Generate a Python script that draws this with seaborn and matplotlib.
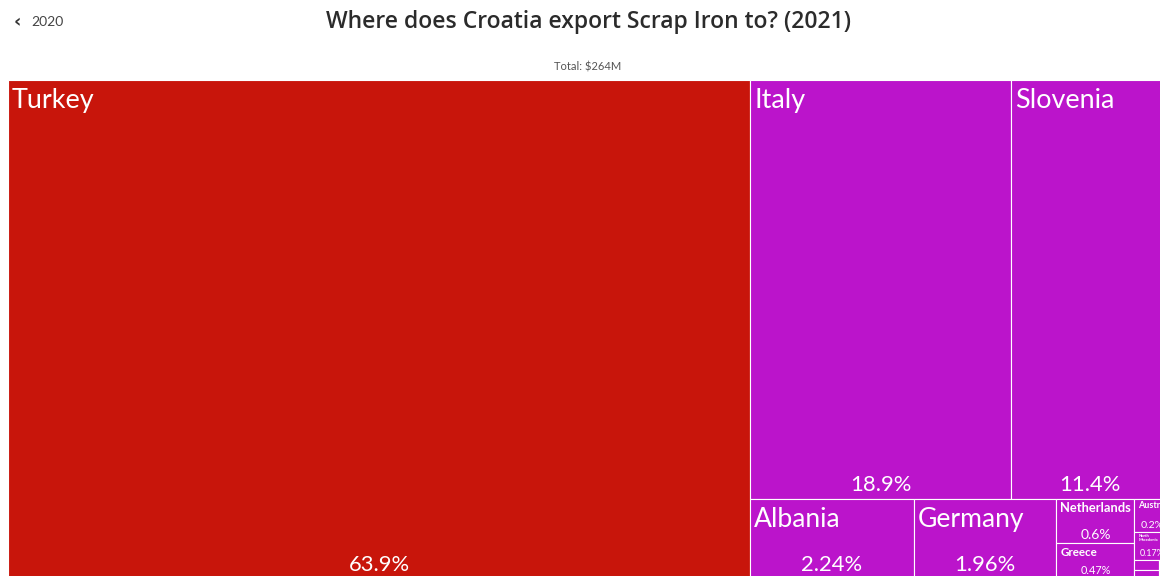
import numpy as np
import pandas as pd
import matplotlib.pyplot as plt
import seaborn as sns
from matplotlib.patches import Rectangle

# data
countries = ["Turkey", "Italy", "Slovenia", "Albania", "Germany", "Netherlands",
             "Greece", "Austria", "North Macedonia", "Bosnia and Herzegovina",
             "Serbia", "Montenegro"]
shares = [63.9, 18.9, 11.4, 2.24, 1.96, 0.6, 0.47, 0.2, 0.17, 0.04, 0.035, 0.03]
continents = ["Asia", "Europe", "Europe", "Europe", "Europe", "Europe",
              "Europe", "Europe", "Europe", "Europe", "Europe", "Europe"]
pct_labels = ["63.9%", "18.9%", "11.4%", "2.24%", "1.96%", "0.6%", "0.47%",
              "0.2%", "0.17%", "", "", ""]
continent_colors = {"Asia": "#C8150B", "Europe": "#BB14CB"}

df = pd.DataFrame({"country": countries, "share": shares,
                   "continent": continents, "pct": pct_labels})

# treemap area in pixels (d3 squarify layout, a bit cropped at right/bottom)
W, H = 1161.0, 498.0
PHI = (1 + 5 ** 0.5) / 2


def squarify(values, x0, y0, x1, y1, ratio=PHI):
    out = [None] * len(values)
    value = float(sum(values))
    n = len(values)
    i0 = i1 = 0
    while i0 < n:
        dx, dy = x1 - x0, y1 - y0
        sum_v = values[i1]
        i1 += 1
        min_v = max_v = sum_v
        alpha = max(dy / dx, dx / dy) / (value * ratio)
        beta = sum_v * sum_v * alpha
        min_ratio = max(max_v / beta, beta / min_v)
        while i1 < n:
            nv = values[i1]
            sum_v += nv
            min_v = min(min_v, nv)
            max_v = max(max_v, nv)
            beta = sum_v * sum_v * alpha
            new_ratio = max(max_v / beta, beta / min_v)
            if new_ratio > min_ratio:
                sum_v -= nv
                break
            min_ratio = new_ratio
            i1 += 1
        row = list(range(i0, i1))
        if dx < dy:
            # dice: horizontal row on top
            ny = y0 + dy * sum_v / value
            cx = x0
            for k in row:
                w = (x1 - x0) * values[k] / sum_v
                out[k] = (cx, y0, w, ny - y0)
                cx += w
            y0 = ny
        else:
            # slice: vertical column on the left
            nx = x0 + dx * sum_v / value
            cy = y0
            for k in row:
                h = (y1 - y0) * values[k] / sum_v
                out[k] = (x0, cy, nx - x0, h)
                cy += h
            x0 = nx
        value -= sum_v
        i0 = i1
    return out


boxes = squarify(df["share"].tolist(), 0, 0, W, H)

sns.set_theme(style="white")
plt.rcParams["font.family"] = ["Lato", "DejaVu Sans"]

fig = plt.figure(figsize=(11.6, 5.76), dpi=100)
ax = fig.add_axes([8 / 1160, -2 / 576, W / 1160, H / 576])
ax.set_xlim(0, W)
ax.set_ylim(H, 0)
ax.axis("off")

PX = 0.72  # points per pixel at dpi 100

for (x, y, w, h), row in zip(boxes, df.itertuples()):
    ax.add_patch(Rectangle((x, y), w, h, facecolor=continent_colors[row.continent],
                           edgecolor="white", linewidth=0.8))
    name = row.country
    name_px = min(27, w / (0.55 * len(name)), h / 3.0)
    if row.country == "North Macedonia":
        name = "North\nMacedonia"
        name_px = 4
    if name_px >= 3:
        weight = "normal" if name_px > 14 else "bold"
        ax.text(x + 4, y + max(2, name_px * 0.3), name, color="white",
                fontsize=name_px * PX, ha="left", va="top", fontweight=weight,
                linespacing=1.0, clip_on=True)
    if row.pct:
        pct_px = min(22, w / (0.5 * len(row.pct)), h / 3.2)
        if pct_px >= 3:
            ax.text(x + w / 2, y + h - max(2, pct_px * 0.15), row.pct, color="white",
                    fontsize=pct_px * PX, ha="center", va="bottom", clip_on=True)

fig.text(588 / 1160, 1 - 22 / 576, "Where does Croatia export Scrap Iron to? (2021)",
         ha="center", va="center", fontsize=16.5, fontweight="semibold", color="#2b2b2b",
         family=["Open Sans", "Lato", "DejaVu Sans"])
fig.text(14 / 1160, 1 - 22 / 576, "\u2039", ha="left", va="center",
         fontsize=13, color="#333333", fontweight="bold", family=["DejaVu Sans"])
fig.text(31 / 1160, 1 - 22 / 576, "2020", ha="left", va="center",
         fontsize=10, color="#444444")
fig.text(588 / 1160, 1 - 67 / 576, "Total: $264M", ha="center", va="center",
         fontsize=8, color="#555555")

fig.savefig("out.png", dpi=100)
